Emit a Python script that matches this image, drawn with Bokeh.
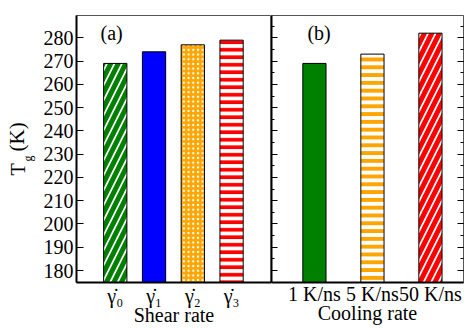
import math
from bokeh.plotting import figure
from bokeh.layouts import row
from bokeh.models import (FixedTicker, SingleIntervalTicker, LinearAxis, Label, Range1d)
from bokeh.embed import file_html
from bokeh.resources import INLINE

# ---- data ----
shear_labels = ["γ̇₀", "γ̇₁", "γ̇₂", "γ̇₃"]
shear_tg = [269, 274, 277, 279]
cooling_labels = ["1 K/ns", "5 K/ns", "50 K/ns"]
cooling_tg = [269, 273, 282]
y_ticks = [180, 190, 200, 210, 220, 230, 240, 250, 260, 270, 280]

# ---- styles ----
shear_styles = [
    dict(fill_color="white", hatch_pattern="/", hatch_color="green", hatch_scale=15, hatch_weight=5),
    dict(fill_color="blue"),
    dict(fill_color="orange", hatch_pattern=".", hatch_color="white", hatch_scale=4.7, hatch_weight=1.5),
    dict(fill_color="white", hatch_pattern="-", hatch_color="red", hatch_scale=7.5, hatch_weight=3.7),
]
cooling_styles = [
    dict(fill_color="green"),
    dict(fill_color="white", hatch_pattern="-", hatch_color="orange", hatch_scale=7.8, hatch_weight=3.9),
    dict(fill_color="white", hatch_pattern="/", hatch_color="red", hatch_scale=15, hatch_weight=5),
]

FONT = "Liberation Serif"
YR = (174.85, 289.6)
H = 328
TOP = 15
BOT = 46

def style_common(p):
    p.grid.visible = False
    p.outline_line_color = "#555555"
    p.outline_line_width = 1
    p.background_fill_color = "white"
    p.border_fill_color = "white"
    p.xaxis.major_label_text_font = FONT
    p.xaxis.major_label_text_font_size = "20px"
    p.xaxis.major_label_text_color = "black"
    p.xaxis.axis_label_text_font = FONT
    p.xaxis.axis_label_text_font_size = "20px"
    p.xaxis.axis_label_text_font_style = "normal"
    p.xaxis.axis_label_text_color = "black"
    p.xaxis.major_tick_line_color = None
    p.xaxis.minor_tick_line_color = None
    p.xaxis.axis_line_width = 2
    p.xaxis.axis_line_color = "black"

# ---- y-axis title strip ----
pt = figure(width=40, height=H, x_range=Range1d(0, 40), y_range=Range1d(*YR),
            output_backend="svg", toolbar_location=None,
            min_border_left=0, min_border_right=0, min_border_top=TOP, min_border_bottom=BOT)
pt.axis.visible = False
pt.grid.visible = False
pt.outline_line_color = None
pt.background_fill_color = "white"
pt.border_fill_color = "white"
pt.add_layout(Label(x=28, y=220.8, x_units="screen", text="T", angle=math.pi / 2,
                    text_font=FONT, text_font_size="20px", text_color="black"))
pt.add_layout(Label(x=34.5, y=226.9, x_units="screen", text="g", angle=math.pi / 2,
                    text_font=FONT, text_font_size="12px", text_color="black"))
pt.add_layout(Label(x=28, y=231.2, x_units="screen", text="(K)", angle=math.pi / 2,
                    text_font=FONT, text_font_size="21px", text_color="black"))

# ---- left panel ----
p1 = figure(width=231, height=H, x_range=Range1d(0, 5.03), y_range=Range1d(*YR),
            output_backend="svg", toolbar_location=None,
            min_border_left=36, min_border_right=0, min_border_top=TOP, min_border_bottom=BOT)
style_common(p1)
x1 = list(range(1, len(shear_tg) + 1))
for xi, tg, st in zip(x1, shear_tg, shear_styles):
    p1.vbar(x=[xi], top=[tg], bottom=YR[0], width=0.6, line_color="black", line_width=1, **st)
p1.xaxis.ticker = FixedTicker(ticks=x1)
p1.xaxis.major_label_overrides = {xi: lab for xi, lab in zip(x1, shear_labels)}
p1.xaxis.axis_label = "Shear rate"
p1.xaxis.major_label_standoff = -4
p1.xaxis.axis_label_standoff = -6
p1.yaxis.ticker = FixedTicker(ticks=y_ticks)
p1.yaxis.major_label_text_font = FONT
p1.yaxis.major_label_text_font_size = "20px"
p1.yaxis.major_label_text_color = "black"
p1.yaxis.major_tick_in = 7
p1.yaxis.major_tick_out = 0
p1.yaxis.minor_tick_line_color = None
p1.yaxis.major_label_standoff = 3
p1.yaxis.axis_line_width = 2
p1.yaxis.axis_line_color = "black"
p1.add_layout(Label(x=0.62, y=277.3, text="(a)", text_font=FONT, text_font_size="20px",
                    text_color="black"))

# ---- right panel ----
p2 = figure(width=193, height=H, x_range=Range1d(0.26, 3.57), y_range=Range1d(*YR),
            output_backend="svg", toolbar_location=None,
            min_border_left=0, min_border_right=1, min_border_top=TOP, min_border_bottom=BOT)
style_common(p2)
x2 = list(range(1, len(cooling_tg) + 1))
for xi, tg, st in zip(x2, cooling_tg, cooling_styles):
    p2.vbar(x=[xi], top=[tg], bottom=YR[0], width=0.4, line_color="black", line_width=1, **st)
p2.xaxis.ticker = FixedTicker(ticks=x2)
p2.xaxis.major_label_overrides = {xi: lab for xi, lab in zip(x2, cooling_labels)}
p2.xaxis.axis_label = "Cooling rate"
p2.xaxis.major_label_standoff = -6
p2.xaxis.axis_label_standoff = -6

right_axis = LinearAxis()
p2.add_layout(right_axis, "right")
for ax in [p2.yaxis[0], right_axis]:
    ax.ticker = SingleIntervalTicker(interval=10, num_minor_ticks=2)
    ax.major_label_text_font_size = "0px"
    ax.major_label_text_color = None
    ax.major_label_standoff = 0
    ax.major_tick_in = 6
    ax.major_tick_out = 0
    ax.minor_tick_in = 3
    ax.minor_tick_out = 0
    ax.axis_line_color = "black"
p2.yaxis[0].axis_line_width = 2
right_axis.axis_line_color = "#555555"
p2.add_layout(Label(x=0.88, y=277.3, text="(b)", text_font=FONT, text_font_size="20px",
                    text_color="black"))

layout = row(pt, p1, p2, spacing=0)
open("out.html", "w").write(file_html(layout, INLINE))
